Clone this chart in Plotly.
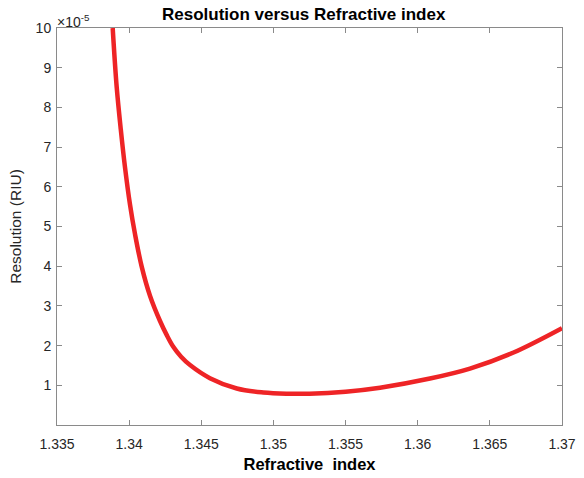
import plotly.graph_objects as go

# Refractive index (x) and resolution in units of 1e-5 RIU (y)
refractive_index = [1.33886, 1.33914, 1.33942, 1.33971, 1.34006, 1.34041, 1.34087,
                    1.34145, 1.34214, 1.34260, 1.34306, 1.34360, 1.34422, 1.34560,
                    1.34746, 1.34930, 1.35092, 1.35250, 1.35500, 1.35739, 1.36085,
                    1.36362, 1.36660, 1.37000]
resolution_e5 = [10.0, 8.50, 7.45, 6.50, 5.55, 4.80, 3.99,
                 3.25, 2.62, 2.27, 1.97, 1.72, 1.51, 1.18,
                 0.92, 0.82, 0.79, 0.79, 0.84, 0.94, 1.17,
                 1.42, 1.82, 2.44]

x_ticks = [1.335, 1.34, 1.345, 1.35, 1.355, 1.36, 1.365, 1.37]
x_labels = ["1.335", "1.34", "1.345", "1.35", "1.355", "1.36", "1.365", "1.37"]
y_ticks = [1, 2, 3, 4, 5, 6, 7, 8, 9, 10]

font = "Liberation Sans, Arial, sans-serif"
axis_col = "#8a8a8a"
txt_col = "#262626"

fig = go.Figure()
fig.add_trace(go.Scatter(
    x=refractive_index, y=resolution_e5, mode="lines",
    line=dict(color="rgb(238,36,38)", width=4.5, shape="spline", smoothing=1.0),
    hoverinfo="skip", showlegend=False, cliponaxis=True,
))

fig.update_layout(
    width=584, height=478,
    margin=dict(l=57, r=22, t=28, b=53),
    paper_bgcolor="white", plot_bgcolor="white",
    font=dict(family=font, color=txt_col, size=14),
    title=dict(text="<b>Resolution versus Refractive index</b>",
               x=0.52, xref="container", xanchor="center",
               y=1 - 14 / 478, yref="container", yanchor="middle",
               font=dict(size=17, color="black", family=font)),
    showlegend=False,
)
fig.update_xaxes(
    range=[1.335, 1.37], tickvals=x_ticks, ticktext=x_labels, automargin=False,
    showgrid=False, zeroline=False, showline=True, linecolor=axis_col, linewidth=1,
    mirror="ticks", ticks="inside", ticklen=5, tickcolor=axis_col,
    ticklabelstandoff=6,
    tickfont=dict(size=14, color=txt_col, family=font),
    title=dict(text="<b>Refractive  index</b>", standoff=7,
               font=dict(size=16.5, color="black", family=font)),
)
fig.update_yaxes(
    range=[0, 10], tickvals=y_ticks, automargin=False,
    showgrid=False, zeroline=False, showline=True, linecolor=axis_col, linewidth=1,
    mirror="ticks", ticks="inside", ticklen=5, tickcolor=axis_col,
    ticklabelstandoff=2,
    tickfont=dict(size=14, color=txt_col, family=font),
    title=dict(text="Resolution (RIU)", standoff=10,
               font=dict(size=15.5, color=txt_col, family=font)),
)
fig.add_annotation(
    x=0, xref="paper", y=1, yref="paper", xanchor="left", yanchor="bottom",
    text="×10<sup>-5</sup>", showarrow=False, xshift=-2, yshift=-4,
    font=dict(size=14, color=txt_col, family=font),
)

fig.write_html("out.html")
